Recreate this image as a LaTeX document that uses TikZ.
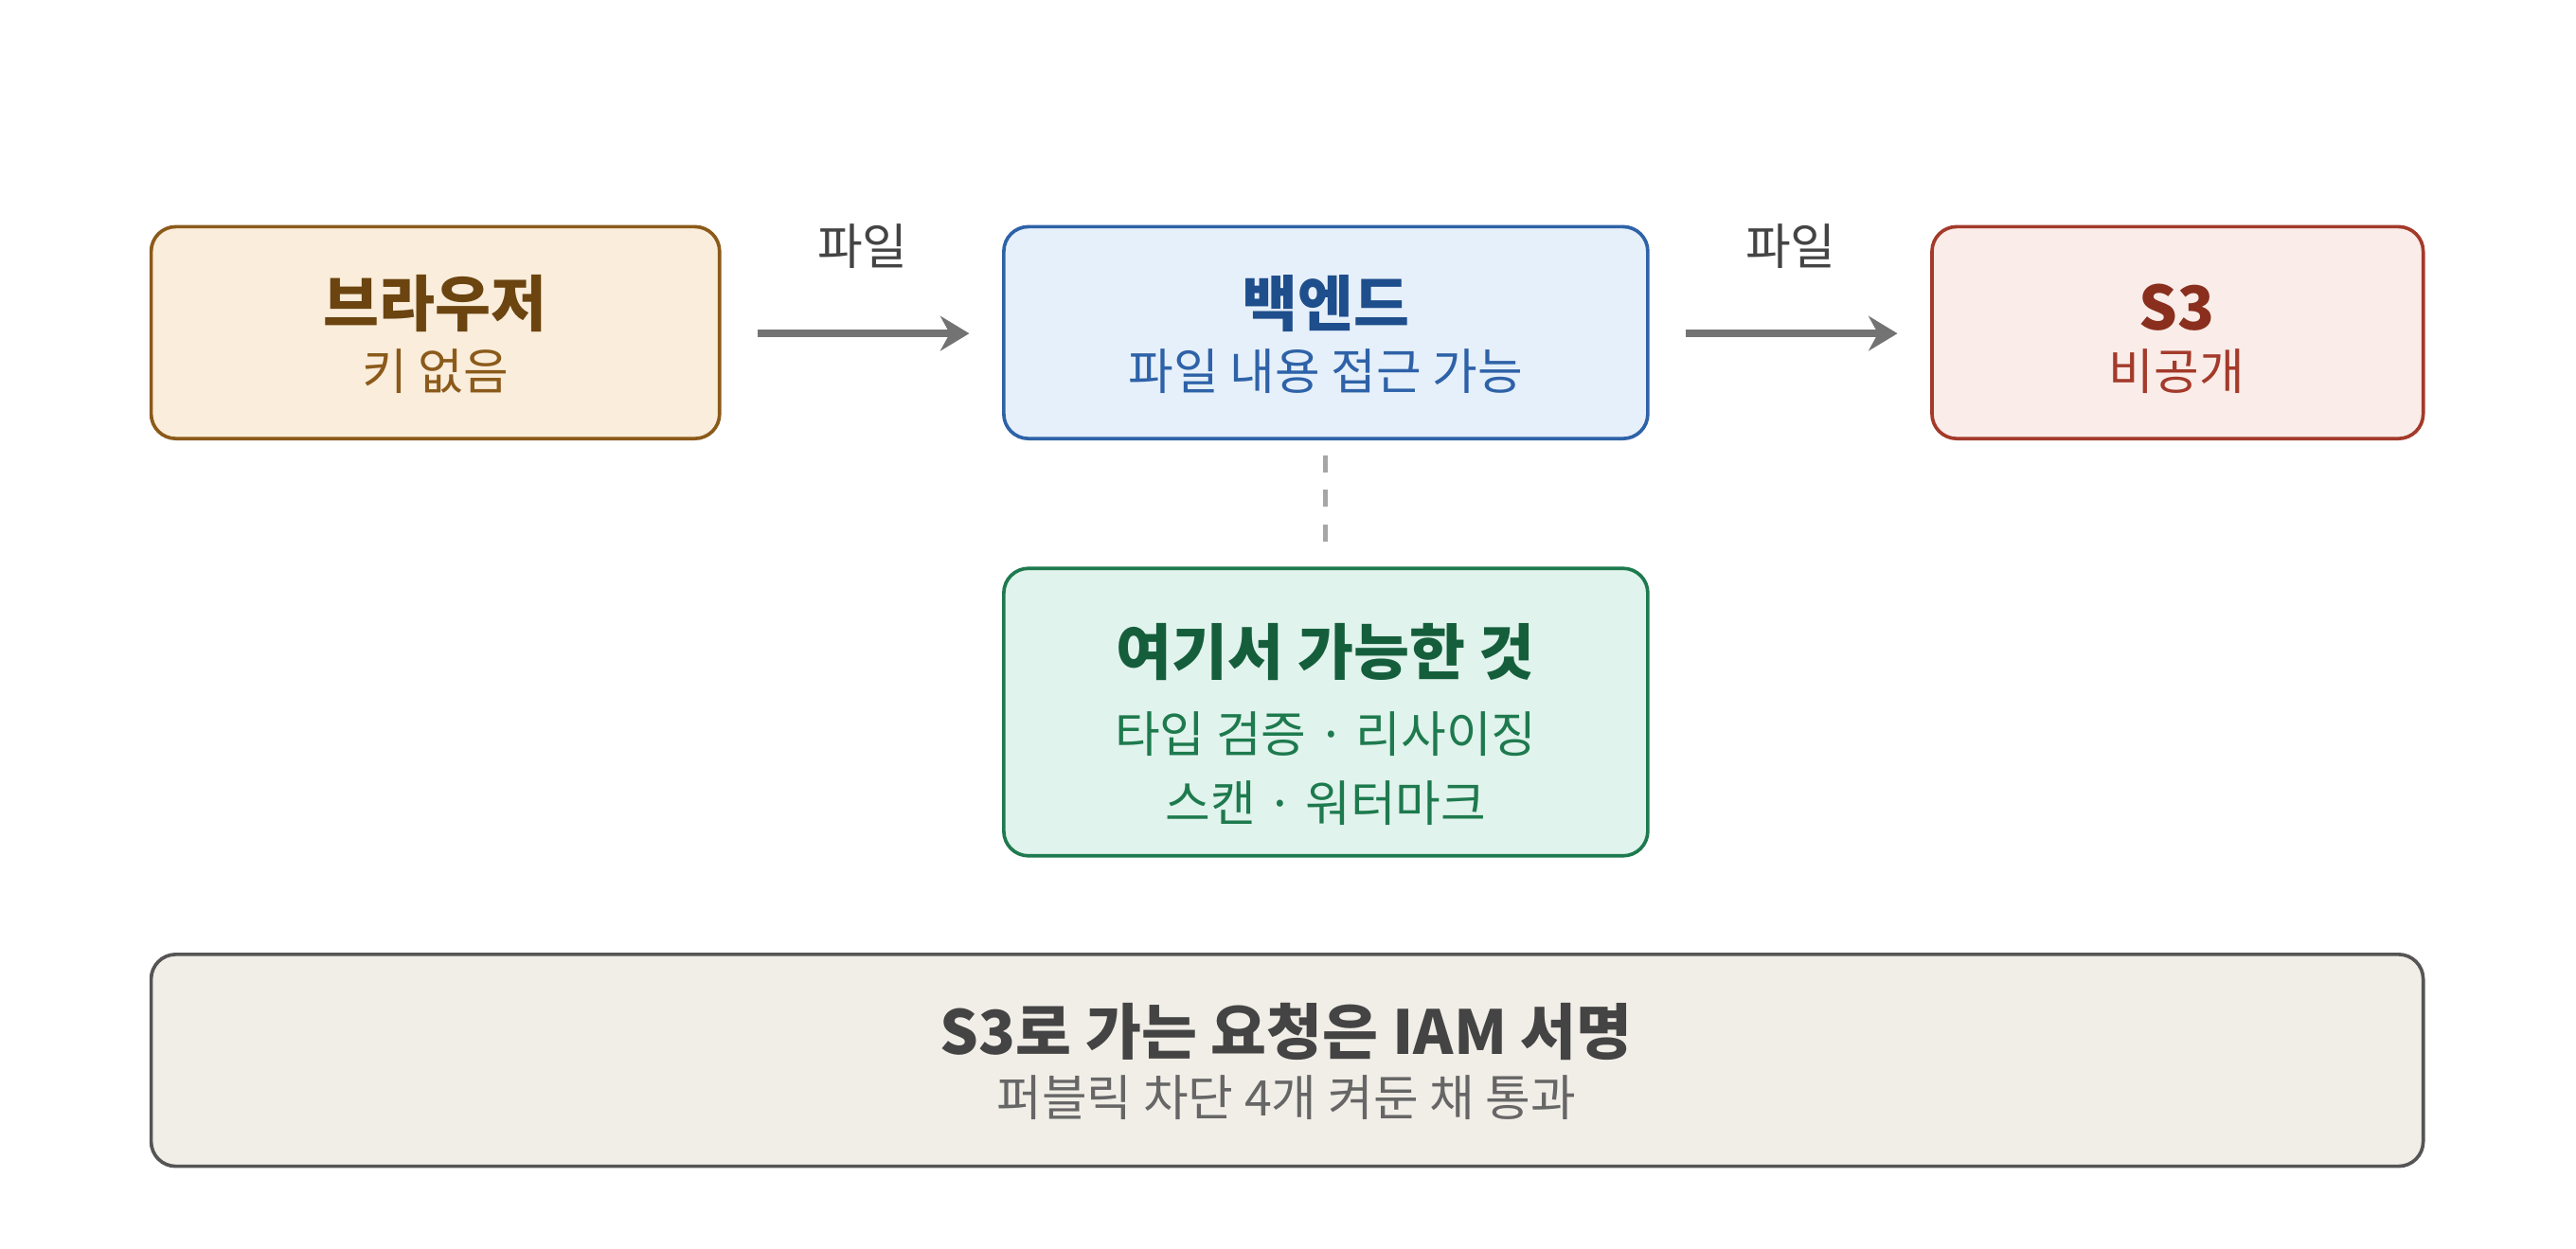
\documentclass[tikz,border=0pt]{standalone}
\usepackage{fontspec}
\setmainfont{Noto Sans CJK KR}
\usetikzlibrary{arrows.meta, positioning, calc}

\definecolor{brownline}{HTML}{8B5A1A}
\definecolor{brownfill}{HTML}{FAEDDB}
\definecolor{browntext}{HTML}{6B4410}
\definecolor{blueline}{HTML}{2E62A8}
\definecolor{bluefill}{HTML}{E6F0FA}
\definecolor{bluetext}{HTML}{1F4E8C}
\definecolor{redline}{HTML}{A33A2A}
\definecolor{redfill}{HTML}{FAECE8}
\definecolor{redtext}{HTML}{8A2E1E}
\definecolor{greenline}{HTML}{1E7A4E}
\definecolor{greenfill}{HTML}{E0F3EC}
\definecolor{greentext}{HTML}{155E3C}
\definecolor{grayline}{HTML}{555555}
\definecolor{grayfill}{HTML}{F1EEE8}
\definecolor{graytext}{HTML}{444444}

\begin{document}
\begin{tikzpicture}[x=0.01cm, y=-0.01cm,
  box/.style   = {draw, rounded corners=0.15cm, line width=0.6pt},
  title/.style = {font=\fontsize{10.5}{12}\selectfont\bfseries},
  sub/.style   = {font=\fontsize{8.5}{10}\selectfont},
  arrow/.style = {draw=gray!90!black, line width=1.4pt, -{Stealth[length=5pt, width=6pt]}},
  lbl/.style   = {font=\fontsize{8.5}{10}\selectfont, text=graytext}
]
  \useasboundingbox (0,0) rectangle (1568,760);

  % top row boxes
  \draw[box, draw=brownline, fill=brownfill] (92,138) rectangle (438,267);
  \node[title, text=browntext] (browser) at (265,185) {브라우저};
  \node[sub, text=brownline] (browsersub) at (265,226) {키 없음};

  \draw[box, draw=blueline, fill=bluefill] (611,138) rectangle (1003,267);
  \node[title, text=bluetext] (backend) at (807,185) {백엔드};
  \node[sub, text=blueline] (backendsub) at (807,226) {파일 내용 접근 가능};

  \draw[box, draw=redline, fill=redfill] (1176,138) rectangle (1475,267);
  \node[title, text=redtext] (sthree) at (1325,187) {S3};
  \node[sub, text=redline] (sthreesub) at (1325,226) {비공개};

  % what can be done here
  \draw[box, draw=greenline, fill=greenfill] (611,346) rectangle (1003,521);
  \node[title, text=greentext] (here) at (807,397) {여기서 가능한 것};
  \node[sub, text=greenline] (hereone) at (807,447) {타입 검증 · 리사이징};
  \node[sub, text=greenline] (heretwo) at (807,489) {스캔 · 워터마크};

  % bottom note
  \draw[box, draw=grayline, fill=grayfill] (92,581) rectangle (1475,710);
  \node[title, text=graytext] (iam) at (783,628) {S3로 가는 요청은 IAM 서명};
  \node[sub, text=grayline!90] (iamsub) at (783,668) {퍼블릭 차단 4개 켜둔 채 통과};

  % connectors
  \coordinate (aone) at (461,203);
  \coordinate (bone) at (590,203);
  \coordinate (atwo) at (1026,203);
  \coordinate (btwo) at (1155,203);
  \draw[arrow] (aone) -- (bone);
  \draw[arrow] (atwo) -- (btwo);
  \node[lbl] (fileone) at (525,150) {파일};
  \node[lbl] (filetwo) at (1090,150) {파일};

  \coordinate (dtop) at (807,277);
  \coordinate (dbot) at (807,335);
  \draw[gray!70, dashed, line width=0.8pt] (dtop) -- (dbot);
\end{tikzpicture}
\end{document}
